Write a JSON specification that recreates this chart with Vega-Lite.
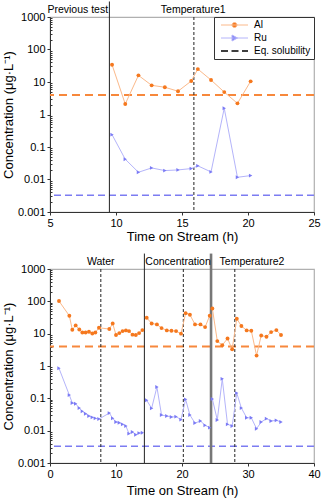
{
  "$schema": "https://vega.github.io/schema/vega-lite/v6.json",
  "background": "white",
  "padding": {"left": 1, "top": 0, "right": 0, "bottom": 2},
  "spacing": 7,
  "config": {
    "view": {"stroke": "#b0b0b0", "strokeWidth": 1.2},
    "axis": {
      "domainColor": "#333", "tickColor": "#333", "labelColor": "black",
      "labelFont": "Liberation Sans", "labelFontSize": 11,
      "titleFont": "Liberation Sans", "titleFontSize": 13, "titleFontWeight": "normal", "titleColor": "black",
      "grid": false, "labelPadding": 2, "labelOverlap": false, "labelFlush": false
    },
    "text": {"font": "Liberation Sans", "fontSize": 10.5}
  },
  "datasets": {
    "top": [
      {"t": 9.7, "Al": 34, "Ru": 0.24},
      {"t": 10.7, "Al": 2.1, "Ru": 0.042},
      {"t": 11.7, "Al": 16, "Ru": 0.0167},
      {"t": 12.7, "Al": 7.9, "Ru": 0.0227},
      {"t": 13.7, "Al": 6.9, "Ru": 0.0188},
      {"t": 14.7, "Al": 5.2, "Ru": 0.0197},
      {"t": 15.7, "Al": 10.7, "Ru": 0.0217},
      {"t": 16.2, "Al": 25, "Ru": 0.0263},
      {"t": 17.2, "Al": 11.5, "Ru": 0.0171},
      {"t": 18.2, "Al": 4.9, "Ru": 1.56},
      {"t": 19.2, "Al": 2.2, "Ru": 0.0117},
      {"t": 20.2, "Al": 10.5, "Ru": 0.0132}
    ],
    "bottom": [
      {"t": 1.36, "seg": "Water", "Al": 102, "Ru": 0.85},
      {"t": 2.93, "seg": "Water", "Al": 35.8, "Ru": 0.126},
      {"t": 3.38, "seg": "Water", "Al": 13.2, "Ru": 0.0716},
      {"t": 3.89, "seg": "Water", "Al": 18, "Ru": 0.068},
      {"t": 4.44, "seg": "Water", "Al": 13.5, "Ru": 0.05},
      {"t": 4.9, "seg": "Water", "Al": 10.9, "Ru": 0.0396},
      {"t": 5.4, "seg": "Water", "Al": 10.9, "Ru": 0.0335},
      {"t": 5.9, "seg": "Water", "Al": 11.5, "Ru": 0.0284},
      {"t": 6.41, "seg": "Water", "Al": 10.1, "Ru": 0.0258},
      {"t": 6.87, "seg": "Water", "Al": 10.9, "Ru": 0.024},
      {"t": 7.42, "seg": "Water", "Al": 15.2, "Ru": 0.0229},
      {"t": 8.99, "seg": "Water", "Al": 13.9, "Ru": 0.035},
      {"t": 9.5, "seg": "Water", "Al": 20.7, "Ru": 0.024},
      {"t": 10.0, "seg": "Water", "Al": 9.1, "Ru": 0.0185},
      {"t": 10.5, "seg": "Water", "Al": 10.4, "Ru": 0.0176},
      {"t": 11.0, "seg": "Water", "Al": 12, "Ru": 0.0157},
      {"t": 11.5, "seg": "Water", "Al": 12.6, "Ru": 0.0139},
      {"t": 11.97, "seg": "Water", "Al": 12, "Ru": 0.0081},
      {"t": 12.5, "seg": "Water", "Al": 9.3, "Ru": 0.0091},
      {"t": 13.0, "seg": "Water", "Al": 9.1, "Ru": 0.0075},
      {"t": 13.5, "seg": "Water", "Al": 10.4, "Ru": 0.0084},
      {"t": 14.0, "seg": "Water", "Al": 12.9, "Ru": 0.0086},
      {"t": 14.65, "seg": "Conc", "Al": 31, "Ru": 0.087},
      {"t": 15.4, "seg": "Conc", "Al": 20.7, "Ru": 0.049},
      {"t": 16.2, "seg": "Conc", "Al": 19.3, "Ru": 0.224},
      {"t": 16.9, "seg": "Conc", "Al": 14.9, "Ru": 0.0304},
      {"t": 17.7, "seg": "Conc", "Al": 12.6, "Ru": 0.0283},
      {"t": 18.4, "seg": "Conc", "Al": 12.3, "Ru": 0.0264},
      {"t": 19.1, "seg": "Conc", "Al": 12, "Ru": 0.0271},
      {"t": 19.85, "seg": "Conc", "Al": 10, "Ru": 0.0219},
      {"t": 20.55, "seg": "Conc", "Al": 43, "Ru": 0.093},
      {"t": 21.2, "seg": "Conc", "Al": 38.5, "Ru": 0.0304},
      {"t": 21.97, "seg": "Conc", "Al": 19.3, "Ru": 0.0172},
      {"t": 22.8, "seg": "Conc", "Al": 19.3, "Ru": 0.0199},
      {"t": 23.5, "seg": "Conc", "Al": 16, "Ru": 0.0146},
      {"t": 24.2, "seg": "Conc", "Al": 35.8, "Ru": 0.0124},
      {"t": 24.6, "seg": "Temp2", "Al": 60, "Ru": 0.095},
      {"t": 25.35, "seg": "Temp2", "Al": 5.9, "Ru": 0.0214},
      {"t": 26.1, "seg": "Temp2", "Al": 4.4, "Ru": 0.4},
      {"t": 26.9, "seg": "Temp2", "Al": 7.1, "Ru": 0.0157},
      {"t": 27.6, "seg": "Temp2", "Al": 3.3, "Ru": 0.0139},
      {"t": 28.3, "seg": "Temp2", "Al": 29, "Ru": 0.145},
      {"t": 29.0, "seg": "Temp2", "Al": 17.2, "Ru": 0.05},
      {"t": 29.8, "seg": "Temp2", "Al": 12.6, "Ru": 0.025},
      {"t": 30.5, "seg": "Temp2", "Al": 12.3, "Ru": 0.025},
      {"t": 31.3, "seg": "Temp2", "Al": 2.1, "Ru": 0.0115},
      {"t": 32.0, "seg": "Temp2", "Al": 8.8, "Ru": 0.0185},
      {"t": 32.8, "seg": "Temp2", "Al": 8.0, "Ru": 0.0235},
      {"t": 33.5, "seg": "Temp2", "Al": 11.2, "Ru": 0.0199},
      {"t": 34.3, "seg": "Temp2", "Al": 12.9, "Ru": 0.0209},
      {"t": 35.0, "seg": "Temp2", "Al": 9.1, "Ru": 0.0185}
    ],
    "eq": [{"series": "Al", "v": 4}, {"series": "Ru", "v": 0.0033}],
    "vlines": [
      {"panel": "top", "t": 9.5, "kind": "solid"},
      {"panel": "top", "t": 15.9, "kind": "dash"},
      {"panel": "bottom", "t": 7.7, "kind": "dash"},
      {"panel": "bottom", "t": 14.3, "kind": "solid"},
      {"panel": "bottom", "t": 20.2, "kind": "dash"},
      {"panel": "bottom", "t": 24.4, "kind": "thick"},
      {"panel": "bottom", "t": 28.0, "kind": "dash"}
    ],
    "phases": [
      {"panel": "top", "t": 7.1, "label": "Previous test"},
      {"panel": "top", "t": 15.85, "label": "Temperature1"},
      {"panel": "bottom", "t": 7.68, "label": "Water"},
      {"panel": "bottom", "t": 19.4, "label": "Concentration"},
      {"panel": "bottom", "t": 30.6, "label": "Temperature2"}
    ]
  },
  "resolve": {"legend": {"color": "independent"}, "scale": {"x": "independent"}},
  "vconcat": [
    {
      "width": 264,
      "height": 195,
      "layer": [
        {
          "data": {"name": "eq"},
          "transform": [{"filter": "datum.series === 'Al'"}],
          "mark": {"type": "rule", "color": "#F7883C", "strokeWidth": 2, "strokeDash": [8, 5]},
          "encoding": {
            "y": {
              "field": "v", "type": "quantitative",
              "scale": {"type": "log", "domain": [0.001, 1000]},
              "title": "Concentration (μg·L⁻¹)",
              "axis": {
                "values": [0.001,0.002,0.003,0.004,0.005,0.006,0.007,0.008,0.009,0.01,0.02,0.03,0.04,0.05,0.06,0.07,0.08,0.09,0.1,0.2,0.3,0.4,0.5,0.6,0.7,0.8,0.9,1,2,3,4,5,6,7,8,9,10,20,30,40,50,60,70,80,90,100,200,300,400,500,600,700,800,900,1000],
                "format": "~g",
                "labelExpr": "indexof([0.001,0.01,0.1,1,10,100,1000], datum.value) >= 0 ? datum.label : ''",
                "tickSize": {"condition": {"test": "indexof([0.001,0.01,0.1,1,10,100,1000], datum.value) >= 0", "value": 3}, "value": -2},
                "titlePadding": 2
              }
            }
          }
        },
        {
          "data": {"name": "eq"},
          "transform": [{"filter": "datum.series === 'Ru'"}],
          "mark": {"type": "rule", "color": "#7C7CF2", "strokeWidth": 1.5, "strokeDash": [7, 4]},
          "encoding": {"y": {"field": "v", "type": "quantitative", "scale": {"type": "log", "domain": [0.001, 1000]}}}
        },
        {
          "data": {"name": "vlines"},
          "transform": [{"filter": "datum.panel === 'top' && datum.kind === 'dash'"}],
          "mark": {"type": "rule", "color": "#222", "strokeWidth": 1, "strokeDash": [3, 2]},
          "encoding": {"x": {"field": "t", "type": "quantitative", "scale": {"domain": [5, 25]}}}
        },
        {
          "data": {"name": "vlines"},
          "transform": [{"filter": "datum.panel === 'top' && datum.kind === 'solid'"}],
          "mark": {"type": "rule", "color": "#222", "strokeWidth": 1},
          "encoding": {
            "x": {"field": "t", "type": "quantitative", "scale": {"domain": [5, 25]}},
            "y": {"datum": 3000, "type": "quantitative", "scale": {"type": "log", "domain": [0.001, 1000]}},
            "y2": {"datum": 0.001}
          }
        },
        {
          "data": {"name": "phases"},
          "transform": [{"filter": "datum.panel === 'top'"}],
          "mark": {"type": "text", "baseline": "middle", "align": "center", "color": "black"},
          "encoding": {
            "x": {"field": "t", "type": "quantitative", "scale": {"domain": [5, 25]}},
            "y": {"datum": 1650, "type": "quantitative", "scale": {"type": "log", "domain": [0.001, 1000]}},
            "text": {"field": "label"}
          }
        },
        {
          "data": {"name": "top"},
          "transform": [{"fold": ["Al", "Ru"], "as": ["series", "v"]}],
          "mark": {"type": "line", "strokeWidth": 1},
          "encoding": {
            "x": {
              "field": "t", "type": "quantitative",
              "scale": {"domain": [5, 25]},
              "title": "Time on Stream (h)",
              "axis": {
                "values": [5, 7.5, 10, 12.5, 15, 17.5, 20, 22.5, 25],
                "labelExpr": "datum.value % 5 === 0 ? datum.label : ''",
                "tickSize": {"condition": {"test": "datum.value % 5 === 0", "value": 3}, "value": -2},
                "titlePadding": 2
              }
            },
            "y": {"field": "v", "type": "quantitative", "scale": {"type": "log", "domain": [0.001, 1000]}},
            "stroke": {"field": "series", "type": "nominal", "scale": {"domain": ["Al", "Ru"], "range": ["#FBB98A", "#B4B4FA"]}, "legend": null}
          }
        },
        {
          "data": {"name": "top"},
          "transform": [{"fold": ["Al", "Ru"], "as": ["series", "v"]}],
          "mark": {"type": "point", "filled": true, "opacity": 1, "size": 15},
          "encoding": {
            "x": {"field": "t", "type": "quantitative", "scale": {"domain": [5, 25]}},
            "y": {"field": "v", "type": "quantitative", "scale": {"type": "log", "domain": [0.001, 1000]}},
            "shape": {"field": "series", "type": "nominal", "scale": {"domain": ["Al", "Ru"], "range": ["circle", "triangle-right"]}, "legend": null},
            "color": {
              "field": "series", "type": "nominal",
              "scale": {"domain": ["Al", "Ru", "Eq. solubility"], "range": ["#F5781E", "#7B7BF5", "#000000"]},
              "legend": {
                "title": null, "orient": "top-right", "offset": 0, "padding": 3,
                "strokeColor": "#333", "fillColor": "white",
                "labelFont": "Liberation Sans", "labelFontSize": 10, "labelColor": "black",
                "symbolSize": 4, "labelOffset": 27, "rowPadding": 3, "symbolOpacity": 1,
                "symbolType": {"expr": "datum.value === 'Al' ? 'M-1,0H26M15,0A2.5,2.5,0,1,1,10,0A2.5,2.5,0,1,1,15,0Z' : datum.value === 'Ru' ? 'M-1,0H26M10,-3L15.5,0L10,3Z' : 'M-1,0H6M9.5,0H16.5M20,0H26'"},
                "symbolStrokeColor": {"expr": "datum.value === 'Al' ? '#FBB98A' : datum.value === 'Ru' ? '#B4B4FA' : '#000000'"},
                "symbolStrokeWidth": {"expr": "datum.value === 'Eq. solubility' ? 1.5 : 1"}
              }
            }
          }
        }
      ]
    },
    {
      "width": 264,
      "height": 194,
      "layer": [
        {
          "data": {"name": "eq"},
          "transform": [{"filter": "datum.series === 'Al'"}],
          "mark": {"type": "rule", "color": "#F7883C", "strokeWidth": 2, "strokeDash": [8, 5]},
          "encoding": {
            "y": {
              "field": "v", "type": "quantitative",
              "scale": {"type": "log", "domain": [0.001, 1000]},
              "title": "Concentration (μg·L⁻¹)",
              "axis": {
                "values": [0.001,0.002,0.003,0.004,0.005,0.006,0.007,0.008,0.009,0.01,0.02,0.03,0.04,0.05,0.06,0.07,0.08,0.09,0.1,0.2,0.3,0.4,0.5,0.6,0.7,0.8,0.9,1,2,3,4,5,6,7,8,9,10,20,30,40,50,60,70,80,90,100,200,300,400,500,600,700,800,900,1000],
                "format": "~g",
                "labelExpr": "indexof([0.001,0.01,0.1,1,10,100,1000], datum.value) >= 0 ? datum.label : ''",
                "tickSize": {"condition": {"test": "indexof([0.001,0.01,0.1,1,10,100,1000], datum.value) >= 0", "value": 3}, "value": -2},
                "titlePadding": 2
              }
            }
          }
        },
        {
          "data": {"name": "eq"},
          "transform": [{"filter": "datum.series === 'Ru'"}],
          "mark": {"type": "rule", "color": "#7C7CF2", "strokeWidth": 1.5, "strokeDash": [7, 4]},
          "encoding": {"y": {"field": "v", "type": "quantitative", "scale": {"type": "log", "domain": [0.001, 1000]}}}
        },
        {
          "data": {"name": "vlines"},
          "transform": [{"filter": "datum.panel === 'bottom' && datum.kind === 'dash'"}],
          "mark": {"type": "rule", "color": "#222", "strokeWidth": 1, "strokeDash": [3, 2]},
          "encoding": {"x": {"field": "t", "type": "quantitative", "scale": {"domain": [0, 40]}}}
        },
        {
          "data": {"name": "vlines"},
          "transform": [{"filter": "datum.panel === 'bottom' && datum.kind === 'solid'"}],
          "mark": {"type": "rule", "color": "#222", "strokeWidth": 1},
          "encoding": {
            "x": {"field": "t", "type": "quantitative", "scale": {"domain": [0, 40]}},
            "y": {"datum": 3000, "type": "quantitative", "scale": {"type": "log", "domain": [0.001, 1000]}},
            "y2": {"datum": 0.001}
          }
        },
        {
          "data": {"name": "vlines"},
          "transform": [{"filter": "datum.panel === 'bottom' && datum.kind === 'thick'"}],
          "mark": {"type": "rule", "color": "#777", "strokeWidth": 2.6},
          "encoding": {
            "x": {"field": "t", "type": "quantitative", "scale": {"domain": [0, 40]}},
            "y": {"datum": 3000, "type": "quantitative", "scale": {"type": "log", "domain": [0.001, 1000]}},
            "y2": {"datum": 0.001}
          }
        },
        {
          "data": {"name": "phases"},
          "transform": [{"filter": "datum.panel === 'bottom'"}],
          "mark": {"type": "text", "baseline": "middle", "align": "center", "color": "black"},
          "encoding": {
            "x": {"field": "t", "type": "quantitative", "scale": {"domain": [0, 40]}},
            "y": {"datum": 1650, "type": "quantitative", "scale": {"type": "log", "domain": [0.001, 1000]}},
            "text": {"field": "label"}
          }
        },
        {
          "data": {"name": "bottom"},
          "transform": [{"fold": ["Al", "Ru"], "as": ["series", "v"]}],
          "mark": {"type": "line", "strokeWidth": 1},
          "encoding": {
            "x": {
              "field": "t", "type": "quantitative",
              "scale": {"domain": [0, 40]},
              "title": "Time on Stream (h)",
              "axis": {
                "values": [0, 2.5, 5, 7.5, 10, 12.5, 15, 17.5, 20, 22.5, 25, 27.5, 30, 32.5, 35, 37.5, 40],
                "labelExpr": "datum.value % 5 === 0 ? datum.label : ''",
                "tickSize": {"condition": {"test": "datum.value % 5 === 0", "value": 3}, "value": -2},
                "titlePadding": 5
              }
            },
            "y": {"field": "v", "type": "quantitative", "scale": {"type": "log", "domain": [0.001, 1000]}},
            "detail": {"field": "seg", "type": "nominal"},
            "stroke": {"field": "series", "type": "nominal", "scale": {"domain": ["Al", "Ru"], "range": ["#FBB98A", "#B4B4FA"]}, "legend": null}
          }
        },
        {
          "data": {"name": "bottom"},
          "transform": [{"fold": ["Al", "Ru"], "as": ["series", "v"]}],
          "mark": {"type": "point", "filled": true, "opacity": 1, "size": 15},
          "encoding": {
            "x": {"field": "t", "type": "quantitative", "scale": {"domain": [0, 40]}},
            "y": {"field": "v", "type": "quantitative", "scale": {"type": "log", "domain": [0.001, 1000]}},
            "shape": {"field": "series", "type": "nominal", "scale": {"domain": ["Al", "Ru"], "range": ["circle", "triangle-right"]}, "legend": null},
            "color": {"field": "series", "type": "nominal", "scale": {"domain": ["Al", "Ru", "Eq. solubility"], "range": ["#F5781E", "#7B7BF5", "#000000"]}, "legend": null}
          }
        }
      ]
    }
  ]
}
